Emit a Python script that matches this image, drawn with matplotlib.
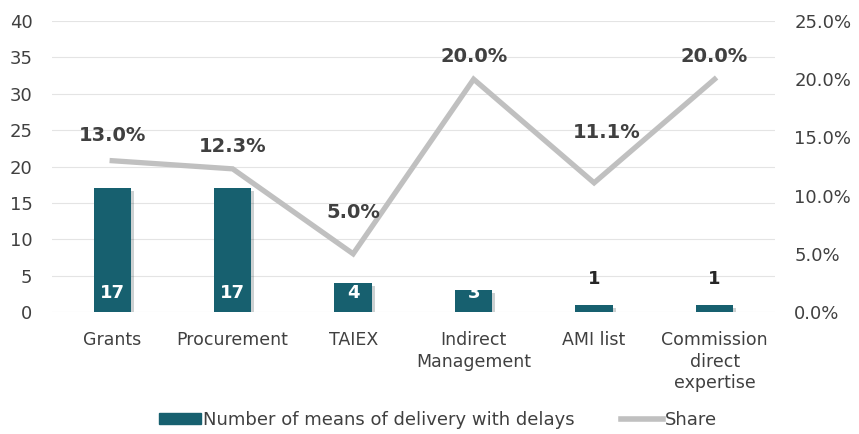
import matplotlib.pyplot as plt
import matplotlib.patheffects as pe
import numpy as np

categories = ['Grants', 'Procurement', 'TAIEX', 'Indirect\nManagement', 'AMI list',
              'Commission\ndirect\nexpertise']
delays = [17, 17, 4, 3, 1, 1]
share = [13.0, 12.3, 5.0, 20.0, 11.1, 20.0]

teal = '#17606f'
grey_line = '#c0c0c0'
txt = '#404040'

fig = plt.figure(figsize=(8.59, 4.34), dpi=100)
ax = fig.add_axes([0.0605, 0.281, 0.8415, 0.6706])
ax2 = ax.twinx()

x = np.arange(len(categories))
bars = ax.bar(x, delays, width=0.31, color=teal, zorder=2,
              path_effects=[pe.SimplePatchShadow(offset=(2, -2), alpha=0.2), pe.Normal()])
ax.set_ylim(0, 40)
ax.set_xlim(-0.5, len(categories) - 0.5)
ax.set_yticks(range(0, 41, 5))
ax.grid(axis='y', color='#e4e4e4', lw=0.8, zorder=0)
ax.set_axisbelow(True)
ax.set_xticks(x)
ax.set_xticklabels(categories, fontsize=12.5, color=txt, linespacing=1.25)
ax.tick_params(axis='y', length=0, labelsize=13, labelcolor=txt, pad=14)
ax.tick_params(axis='x', length=0, pad=14)

# values on bars
for xi, v in zip(x, delays):
    if v >= 3:
        ax.text(xi, 2.6, str(v), ha='center', va='center', color='white',
                fontsize=13, fontweight='bold', zorder=4)
    else:
        ax.text(xi, v + 3.6, str(v), ha='center', va='center', color='#262626',
                fontsize=13, fontweight='bold')

ax2.plot(x, share, color=grey_line, lw=3.8, solid_joinstyle='miter', zorder=3)
ax2.set_ylim(0, 25)
ax2.set_yticks(range(0, 26, 5))
ax2.set_yticklabels([f'{v:.1f}%' for v in range(0, 26, 5)])
ax2.tick_params(axis='y', length=0, labelsize=13, labelcolor=txt, pad=14)
# label offsets in points (some labels were nudged in the original)
offs = [(0, 18), (0, 16), (0, 30), (0, 16), (9, 36), (0, 16)]
for xi, s, o in zip(x, share, offs):
    ax2.annotate(f'{s:.1f}%', (xi, s), xytext=o, textcoords='offset points',
                 ha='center', va='center', color=txt, fontsize=14, fontweight='bold')

for a in (ax, ax2):
    for sp in a.spines.values():
        sp.set_visible(False)

h1 = plt.Rectangle((0, 0), 1, 1, color=teal)
h2 = plt.Line2D([], [], color=grey_line, lw=4)
fig.legend([h1, h2], ['Number of means of delivery with delays', 'Share'],
           loc='center', bbox_to_anchor=(0.51, 0.032), ncol=2, frameon=False,
           prop={'size': 13}, handlelength=2.3, handleheight=0.55,
           handletextpad=0.1, columnspacing=2.6, labelcolor=txt)

fig.savefig('out.png', dpi=100)
